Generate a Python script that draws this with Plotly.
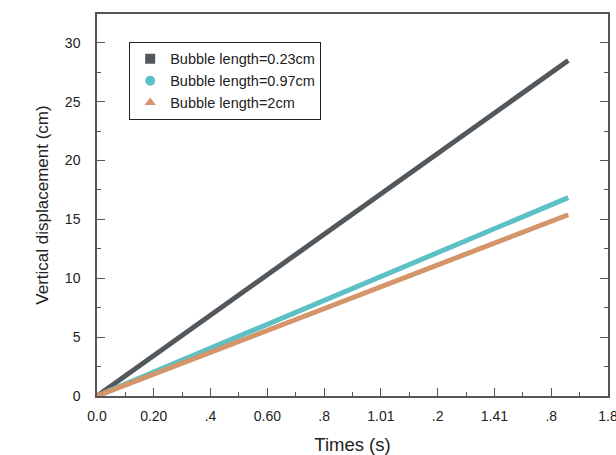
import plotly.graph_objects as go

# Data
times = [0.0, 1.66]
disp_023 = [0.0, 28.5]
disp_097 = [0.0, 16.85]
disp_2 = [0.0, 15.4]

series_names = ["Bubble length=0.23cm", "Bubble length=0.97cm", "Bubble length=2cm"]
series_values = [disp_023, disp_097, disp_2]
colors = ["#53585c", "#5cc0c4", "#d4956a"]
symbols = ["square", "circle", "triangle-up"]

x_tickvals = [0, 0.2, 0.4, 0.6, 0.8, 1.0, 1.2, 1.4, 1.6, 1.8]
x_ticktext = ["0.0", "0.20", ".4", "0.60", ".8", "1.01", ".2", "1.41", ".8", "1.8"]
y_tickvals = [0, 5, 10, 15, 20, 25, 30]

fig = go.Figure()
for name, vals, c in zip(series_names, series_values, colors):
    fig.add_trace(go.Scatter(x=times, y=vals, mode="lines", line=dict(color=c, width=5),
                             showlegend=False, hoverinfo="skip"))
for i, (name, c, s) in enumerate(zip(series_names, colors, symbols)):
    fig.add_trace(go.Scatter(x=[None], y=[None], mode="markers", name=name,
                             marker=dict(color=c, symbol=s, size=10),
                             legendgroup=str(i)))

font = "Liberation Sans, Arial, sans-serif"
fig.update_layout(
    width=616, height=455,
    margin=dict(l=97, r=8, t=14, b=59),
    paper_bgcolor="white", plot_bgcolor="white",
    font=dict(family=font, color="#222", size=14),
    legend=dict(x=0.063, y=0.927, xanchor="left", yanchor="top",
                bordercolor="#222", borderwidth=1, bgcolor="white",
                font=dict(size=14.5, family=font, color="#222"),
                tracegroupgap=0, itemwidth=30),
    xaxis=dict(range=[0, 1.8], tickvals=x_tickvals, ticktext=x_ticktext,
               ticks="inside", ticklen=8, tickcolor="#555", tickwidth=1,
               showline=True, linecolor="#555", linewidth=1.5, mirror=True,
               showgrid=False, zeroline=False, automargin=False,
               ticklabelstandoff=6, ticklabeloverflow="allow",
               minor=dict(ticks="inside", ticklen=4, dtick=0.1, tickcolor="#555", showgrid=False),
               title=dict(text="Times (s)", font=dict(size=18.5, family=font, color="#222"), standoff=19),
               tickfont=dict(size=14, family=font, color="#222")),
    yaxis=dict(range=[0, 32.45], tickvals=y_tickvals,
               ticks="inside", ticklen=8, tickcolor="#555", tickwidth=1,
               showline=True, linecolor="#555", linewidth=1.5, mirror="ticks",
               showgrid=False, zeroline=False, automargin=False,
               ticklabelstandoff=12,
               minor=dict(ticks="inside", ticklen=4, dtick=2.5, tickcolor="#555", showgrid=False),
               title=dict(text="Vertical displacement (cm)", font=dict(size=17, family=font, color="#222"), standoff=12),
               tickfont=dict(size=14, family=font, color="#222")),
)
fig.write_html("out.html", config={"displayModeBar": False},
               post_script="document.body.style.margin='0';document.body.style.overflow='hidden';")
